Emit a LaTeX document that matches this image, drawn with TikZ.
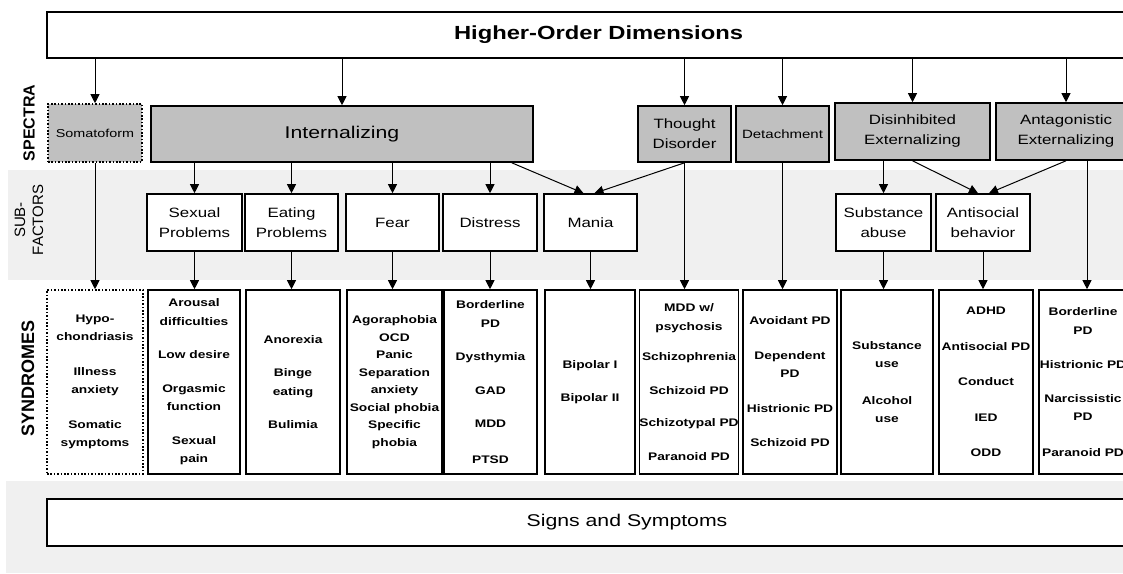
\documentclass[tikz,border=0pt]{standalone}
\usepackage{fontspec}
\setmainfont{Liberation Sans}
\newfontfamily\wfont{Liberation Sans}[FakeStretch=1.25]
\usepackage{xcolor}
\usepackage{tikz}
\usetikzlibrary{arrows.meta}
\definecolor{gris}{HTML}{C0C0C0}
\definecolor{fondo}{HTML}{F0F0F0}

\begin{document}
\begin{tikzpicture}[x=1pt,y=-1pt,>={Triangle[width=9pt,length=9pt]},line width=1pt]
\tikzstyle{caja}=[draw,line width=1.6pt,inner sep=0pt,align=center]
\tikzstyle{punt}=[dash pattern=on 1.6pt off 1.8pt]
\tikzstyle{spec}=[caja,fill=gris,minimum height=56pt,font=\wfont\fontsize{13.5}{20}\selectfont]
\tikzstyle{subf}=[caja,fill=white,minimum height=57pt,font=\wfont\fontsize{13.5}{20}\selectfont]
\tikzstyle{synd}=[caja,fill=white,minimum height=184pt,font=\wfont\bfseries\fontsize{11}{18.5}\selectfont]
\useasboundingbox (0,0) rectangle (1123,573);
\clip (0,0) rectangle (1123,573);
%fondos
\fill[fondo] (8,170) rectangle (1123,280);
\fill[fondo] (6,481) rectangle (1123,573);
%etiquetas
\node[rotate=90,font=\bfseries\fontsize{16}{18}\selectfont] (lspec) at (29,123) {SPECTRA};
\node[rotate=90,align=center,font=\fontsize{15}{18}\selectfont] (lsub) at (29,220) {SUB-\\FACTORS};
\node[rotate=90,font=\bfseries\fontsize{18}{20}\selectfont] (lsyn) at (28,378) {SYNDROMES};
%dimensiones
\node[caja,line width=1.8pt,minimum width=1103pt,minimum height=46pt,font=\wfont\bfseries\fontsize{19}{22}\selectfont] (hod) at (598.5,35) {Higher-Order Dimensions};
\node[caja,line width=1.8pt,fill=white,minimum width=1160pt,minimum height=47pt,font=\wfont\fontsize{17}{20}\selectfont] (sig) at (627,522.5) {Signs and Symptoms};
%espectros
\node[spec,punt,minimum width=94pt,minimum height=58pt,font=\wfont\fontsize{11.5}{14}\selectfont] (som) at (95,133) {Somatoform};
\node[spec,minimum width=382pt,font=\wfont\fontsize{17}{20}\selectfont] (int) at (342,134) {Internalizing};
\node[spec,minimum width=93pt] (tdis) at (684.5,134) {Thought\\Disorder};
\node[spec,minimum width=93pt,font=\wfont\fontsize{12}{14}\selectfont] (det) at (782.5,134) {Detachment};
\node[spec,minimum width=155pt,minimum height=57pt] (dis) at (912.5,131.5) {Disinhibited\\Externalizing};
\node[spec,minimum width=140pt,minimum height=57pt] (ant) at (1066,131.5) {Antagonistic\\Externalizing};
%subfactores
\node[subf,minimum width=95pt] (sex) at (194.5,222.5) {Sexual\\Problems};
\node[subf,minimum width=93pt] (eat) at (291.5,222.5) {Eating\\Problems};
\node[subf,minimum width=93pt] (fea) at (392.5,222.5) {Fear};
\node[subf,minimum width=94pt] (dst) at (490,222.5) {Distress};
\node[subf,minimum width=93pt] (man) at (590.5,222.5) {Mania};
\node[subf,minimum width=95pt] (sub) at (883.5,222.5) {Substance\\abuse};
\node[subf,minimum width=94pt] (asb) at (983,222.5) {Antisocial\\behavior};
%sindromes
\node[synd,punt,minimum width=96pt] (ssom) at (95,382) {Hypo-\\chondriasis\\[16pt]Illness\\anxiety\\[16pt]Somatic\\symptoms};
\node[synd,minimum width=92pt] (ssex) at (194,382) {Arousal\\difficulties\\[15pt]Low desire\\[15pt]Orgasmic\\function\\[15pt]Sexual\\pain};
\node[synd,minimum width=94pt] (seat) at (293,382) {Anorexia\\[15pt]Binge\\eating\\[15pt]Bulimia};
\node[synd,minimum width=95pt,font=\wfont\bfseries\fontsize{11}{17.5}\selectfont] (sfea) at (394.5,382) {Agoraphobia\\OCD\\Panic\\Separation\\anxiety\\Social phobia\\Specific\\phobia};
\node[synd,minimum width=93pt] (sdst) at (490.5,382) {Borderline\\PD\\[15pt]Dysthymia\\[15pt]GAD\\[15pt]MDD\\[17pt]PTSD};
\node[synd,minimum width=90pt] (sman) at (590,382) {Bipolar I\\[15pt]Bipolar II};
\node[synd,minimum width=92pt] (stho) at (689,382) {MDD w/\\psychosis\\[12pt]Schizophrenia\\[15pt]Schizoid PD\\[14pt]Schizotypal PD\\[15pt]Paranoid PD};
\node[synd,minimum width=94pt] (sdet) at (790,382) {Avoidant PD\\[16pt]Dependent\\PD\\[16pt]Histrionic PD\\[16pt]Schizoid PD};
\node[synd,minimum width=92pt] (ssub) at (887,382) {Substance\\use\\[18pt]Alcohol\\use};
\node[synd,minimum width=94pt] (sasb) at (986,382) {ADHD\\[17pt]Antisocial PD\\[17pt]Conduct\\[17pt]IED\\[17pt]ODD};
\node[synd,minimum width=88pt] (sant) at (1083,382) {Borderline\\PD\\[16pt]Histrionic PD\\[15pt]Narcissistic\\PD\\[17pt]Paranoid PD};
%conexiones
\path[->] (hod.south -| som) edge (som)
          (hod.south -| int) edge (int)
          (hod.south -| tdis) edge (tdis)
          (hod.south -| det) edge (det)
          (hod.south -| dis) edge (dis)
          (hod.south -| ant) edge (ant);
\path[->] (int.south -| sex) edge (sex)
          (int.south -| eat) edge (eat)
          (int.south -| fea) edge (fea)
          (int.south -| dst) edge (dst)
          ([xshift=-22pt]int.south east) edge ([xshift=-7pt]man.north)
          (tdis.south) edge ([xshift=4pt]man.north)
                       edge (tdis.south |- stho.north)
          (det.south) edge (det.south |- sdet.north)
          (dis.south -| sub) edge (sub)
          (dis.south) edge ([xshift=-5pt]asb.north)
          (ant.south) edge ([xshift=6pt]asb.north)
          ([xshift=21pt]ant.south) edge ([xshift=21pt]ant.south |- sant.north)
          (som) edge (ssom);
\path[->] (sex.south) edge (sex.south |- ssex.north)
          (eat.south) edge (eat.south |- seat.north)
          (fea.south) edge (fea.south |- sfea.north)
          (dst.south) edge (dst.south |- sdst.north)
          (man.south) edge (man.south |- sman.north)
          (sub.south) edge (sub.south |- ssub.north)
          (asb.south) edge (asb.south |- sasb.north);
\end{tikzpicture}
\end{document}
